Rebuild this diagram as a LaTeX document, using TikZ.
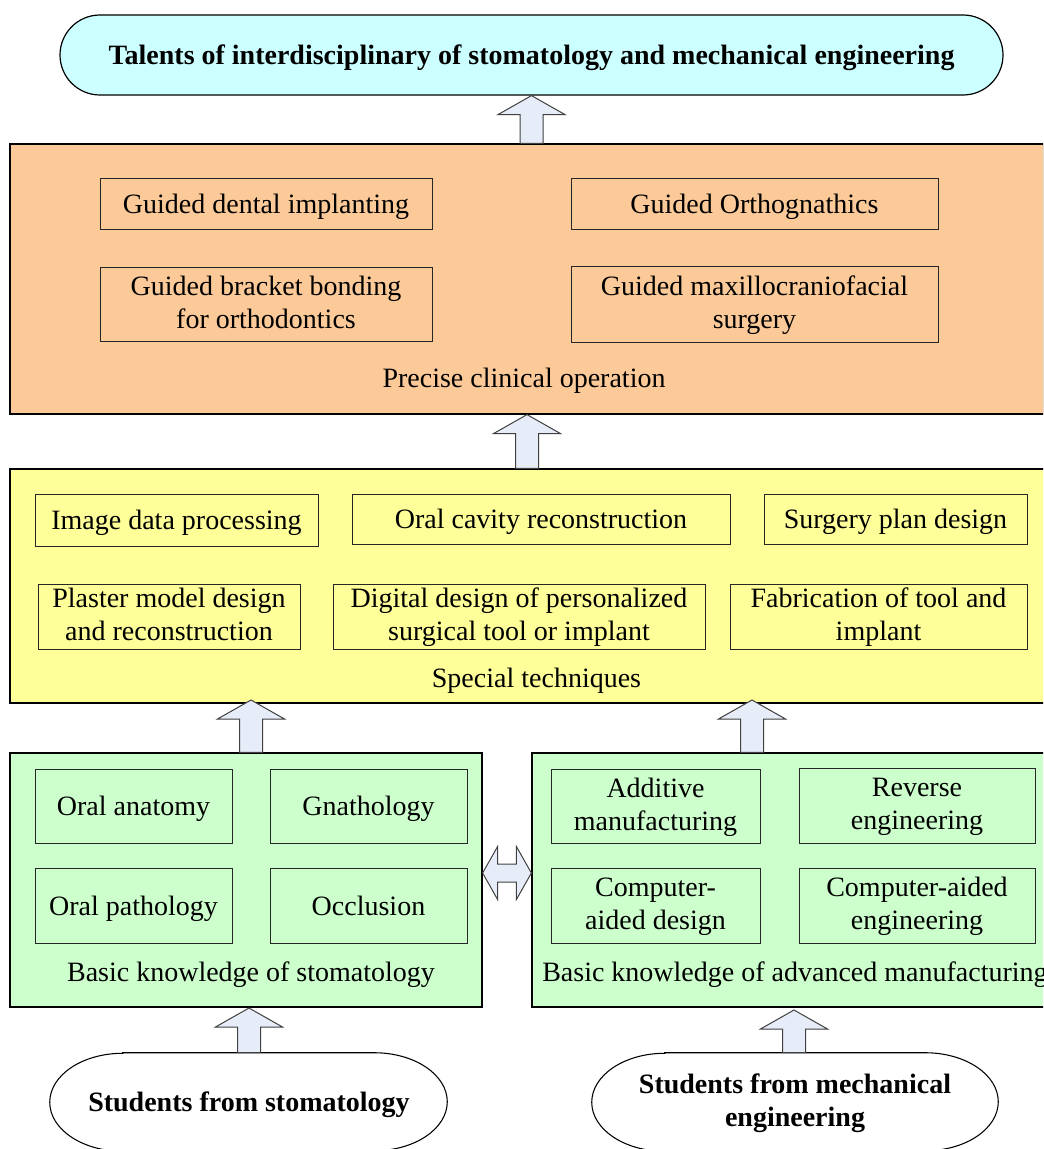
\documentclass[tikz,border=0pt]{standalone}
\usepackage{fontspec}
\setmainfont{Liberation Serif}
\usetikzlibrary{fit,calc}
\definecolor{cyanf}{HTML}{CCFFFF}
\definecolor{orangef}{HTML}{FCCA98}
\definecolor{yellowf}{HTML}{FFFF99}
\definecolor{greenf}{HTML}{CCFFCC}
\definecolor{arrowf}{HTML}{E6ECF8}
\newcommand\blkup[2]{%
  \draw[blk] (#1) -- ($(#1)+(33.5,19)$) -- ($(#1)+(11.5,19)$) -- ($(#2)+(11.5,0)$)
    -- ($(#2)+(-11.5,0)$) -- ($(#1)+(-11.5,19)$) -- ($(#1)+(-33.5,19)$) -- cycle;}
\newcommand\inb[4]{% name, corner1, corner2, text
  \node[inbox, fit={#2 #3}] (#1) {};
  \node[lbl] (#1l) at (#1.center) {#4};}
\begin{document}
\begin{tikzpicture}[x=0.75pt,y=-0.75pt,
  bigbox/.style={draw=black, line width=0.9pt, inner sep=0pt},
  inbox/.style={draw=black!85, line width=0.75pt, inner sep=0pt},
  lbl/.style={inner sep=0pt, align=center, yshift=-2.25pt,
    execute at begin node=\strut, execute at end node=\strut,
    font=\fontsize{21pt}{24.75pt}\selectfont},
  blbl/.style={lbl, font=\fontsize{21pt}{24.75pt}\selectfont\bfseries},
  blk/.style={draw=black!75, fill=arrowf, line width=0.75pt, line join=miter},
  stad/.style={draw=black, line width=0.8pt, fill=white}]
\useasboundingbox (0,0) rectangle (1043,1149);
\clip (0,0) rectangle (1043,1149);

% top box
\node[bigbox, fill=cyanf, rounded corners=30pt, fit={(60,15)(1003,95)}] (top) {};
\node[blbl] (topl) at (top.center) {Talents of interdisciplinary of stomatology and mechanical engineering};

% orange box
\node[bigbox, fill=orangef, fit={(10,144)(1044,414)}] (clin) {};
\inb{c1}{(100,178)}{(432,229)}{Guided dental implanting}
\inb{c2}{(571,178)}{(938,229)}{Guided Orthognathics}
\inb{c3}{(100,267)}{(432,341)}{Guided bracket bonding\\for orthodontics}
\inb{c4}{(571,266)}{(938,342)}{Guided maxillocraniofacial\\surgery}
\node[lbl] (clinl) at (524,378) {Precise clinical operation};

% yellow box
\node[bigbox, fill=yellowf, fit={(10,469)(1062,703)}] (spec) {};
\inb{t1}{(35,494)}{(318,546)}{Image data processing}
\inb{t2}{(352,494)}{(730,544)}{Oral cavity reconstruction}
\inb{t3}{(764,494)}{(1027,544)}{Surgery plan design}
\inb{t4}{(38,584)}{(300,649)}{Plaster model design\\and reconstruction}
\inb{t5}{(333,584)}{(705,649)}{Digital design of personalized\\surgical tool or implant}
\inb{t6}{(730,584)}{(1027,649)}{Fabrication of tool and\\implant}
\node[lbl] (specl) at (536.5,678) {Special techniques};

% green left
\node[bigbox, fill=greenf, fit={(10,753)(482,1007)}] (gl) {};
\inb{g1}{(35,769)}{(232,843)}{Oral anatomy}
\inb{g2}{(270,769)}{(467,843)}{Gnathology}
\inb{g3}{(35,868)}{(232,943)}{Oral pathology}
\inb{g4}{(270,868)}{(467,943)}{Occlusion}
\node[lbl] (gll) at (251,972) {Basic knowledge of stomatology};

% green right
\node[bigbox, fill=greenf, fit={(532,753)(1062,1007)}] (gr) {};
\inb{m1}{(551,769)}{(760,843)}{Additive\\manufacturing}
\inb{m2}{(799,768)}{(1035,843)}{Reverse\\engineering}
\inb{m3}{(551,868)}{(760,943)}{Computer-\\aided design}
\inb{m4}{(799,868)}{(1035,943)}{Computer-aided\\engineering}
\node[lbl, anchor=west] (grl) at (542,972) {Basic knowledge of advanced manufacturing};

% students
\node[inner sep=0pt, fit={(50,1053)(447,1151)}] (s1) {};
\node[inner sep=0pt, fit={(592,1053)(998,1151)}] (s2) {};
\draw[stad] ($(s1.north west)+(73,0)$) -- ($(s1.north east)+(-73,0)$)
  arc[start angle=90, end angle=-90, x radius=54.75pt, y radius=36.75pt]
  -- ($(s1.south west)+(73,0)$)
  arc[start angle=270, end angle=90, x radius=54.75pt, y radius=36.75pt] -- cycle;
\draw[stad] ($(s2.north west)+(73,0)$) -- ($(s2.north east)+(-73,0)$)
  arc[start angle=90, end angle=-90, x radius=54.75pt, y radius=36.75pt]
  -- ($(s2.south west)+(73,0)$)
  arc[start angle=270, end angle=90, x radius=54.75pt, y radius=36.75pt] -- cycle;
\node[blbl] (s1l) at (249,1102) {Students from stomatology};
\node[blbl] (s2l) at (795,1102) {Students from mechanical\\engineering};

% block arrows
\blkup{top.south}{top.south |- clin.north}
\blkup{clin.south}{clin.south |- spec.north}
\coordinate (a3l) at (251,700);
\coordinate (a3r) at (752,700);
\blkup{a3l}{a3l |- gl.north}
\blkup{a3r}{a3r |- gr.north}
\coordinate (a4l) at (249,1008);
\coordinate (a4r) at (794,1010);
\blkup{a4l}{a4l |- s1.north}
\blkup{a4r}{a4r |- s2.north}

% double arrow
\coordinate (dl) at (gl.east |- 0,873);
\coordinate (dr) at (gr.west |- 0,873);
\draw[blk] (dl) -- ($(dl)+(15,-26.5)$) -- ($(dl)+(15,-9)$) -- ($(dr)+(-15,-9)$)
  -- ($(dr)+(-15,-26.5)$) -- (dr) -- ($(dr)+(-15,26.5)$) -- ($(dr)+(-15,9)$)
  -- ($(dl)+(15,9)$) -- ($(dl)+(15,26.5)$) -- cycle;
\end{tikzpicture}
\end{document}
